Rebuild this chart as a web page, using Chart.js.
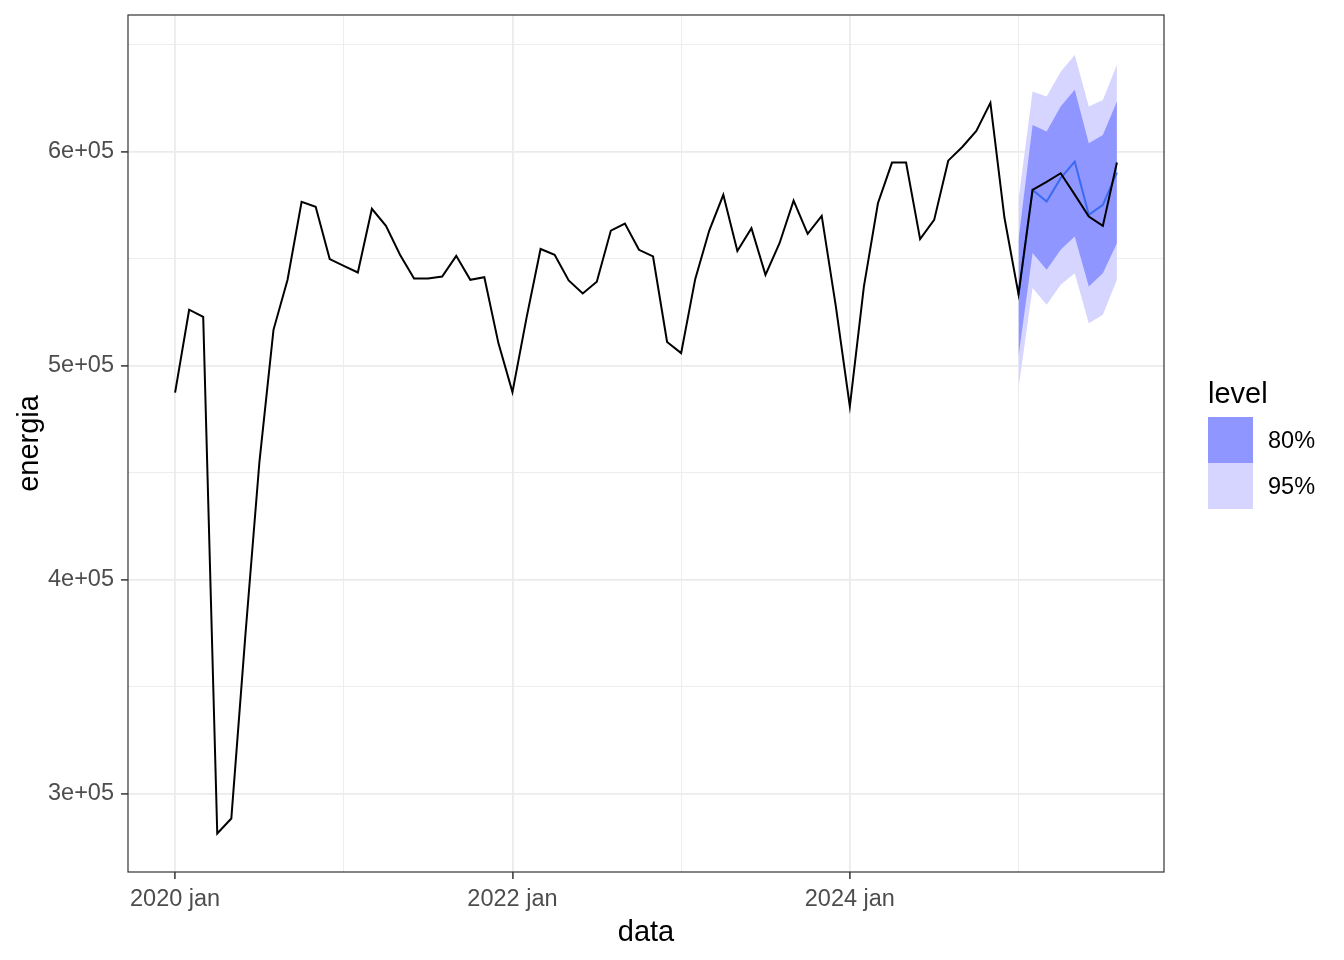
<!DOCTYPE html>
<html>
<head>
<meta charset="utf-8">
<script src="https://cdn.jsdelivr.net/npm/chart.js@4"></script>
<style>
  body { margin: 0; background: #fff; }
  #wrap { position: relative; width: 1344px; height: 960px; }
  #legenda { position: absolute; font-family: 'Liberation Sans', Arial, sans-serif; color: #000; }
  #legenda .titulo { position: absolute; left: 0; top: 0; font-size: 29px; line-height: 34px; white-space: nowrap; }
  #legenda .caixa { position: absolute; left: 0; width: 45px; height: 46px; }
  #legenda .rotulo { position: absolute; left: 60px; font-size: 23.5px; line-height: 46px; white-space: nowrap; }
</style>
</head>
<body>
<div id="wrap"><canvas id="grafico"></canvas><div id="legenda"></div></div>
<script>
// serie mensal, 2020 jan (mes 0) ate 2025 ago (mes 67)
const energia = [
  487400, 526200, 522900, 281300, 288300, 374000, 455100, 516800, 540200, 576600, 574300, 549900,
  546700, 543600, 573400, 565400, 551900, 540800, 540800, 541700, 551400, 540200, 541400, 510600,
  487700, 522400, 554600, 551900, 539900, 533800, 539300, 563200, 566500, 554200, 551100, 511100,
  505900, 540500, 563200, 579900, 553700, 564300, 542500, 557300, 577200, 561700, 570100, 528000,
  481000, 537000, 576000, 595000, 595000, 559200, 568200, 595900, 602300, 609800, 622900, 569200,
  533500, 582200, 586000, 590000, 580000, 569800, 565400, 595000
];

// previsao a partir de 2025 jan (mes 60)
const inicioPrevisao = 60;
const previsao = [533000, 582200, 576800, 587700, 595500, 570600, 575200, 590300];
const lo80 = [504400, 552700, 544900, 554200, 560400, 537100, 543300, 557300];
const hi80 = [558900, 612600, 609500, 621200, 629000, 604000, 607900, 623500];
const lo95 = [489600, 536300, 528500, 537900, 543300, 519900, 523800, 540200];
const hi95 = [577600, 628200, 625900, 637500, 645300, 621200, 624300, 640700];

// ticks: principais com rotulo, secundarios so com grade
const ticksX = [0, 24, 48];
const rotulosX = ['2020 jan', '2022 jan', '2024 jan'];
const ticksXsec = [12, 36, 60];
const ticksY = [300000, 400000, 500000, 600000];
const rotulosY = ['3e+05', '4e+05', '5e+05', '6e+05'];
const ticksYsec = [350000, 450000, 550000, 650000];

const fonte = 'Liberation Sans, Arial, sans-serif';
const corGrade = '#EBEBEB';

const pontos = (arr, inicio) => arr.map((v, i) => ({ x: inicio + i, y: v }));
const juntaTicks = (a, b) => a.concat(b).sort((p, q) => p - q).map(v => ({ value: v }));

// moldura do painel (theme_bw) + legenda em html
const moldura = {
  id: 'moldura',
  afterDraw(chart) {
    const a = chart.chartArea;
    const c = chart.ctx;
    c.save();
    c.strokeStyle = '#333333';
    c.lineWidth = 1.2;
    c.strokeRect(a.left, a.top, a.right - a.left, a.bottom - a.top);
    c.restore();

    const leg = document.getElementById('legenda');
    if (leg.childElementCount) return;
    leg.style.left = (a.right + 44) + 'px';
    leg.style.top = ((a.top + a.bottom) / 2 - 68) + 'px';
    let html = '<div class="titulo">level</div>';
    ['80%', '95%'].forEach((nome, k) => {
      const ds = chart.data.datasets.find(d => d.label === nome);
      const top = 41 + k * 46;
      html += `<div class="caixa" style="top:${top}px;background:${ds.backgroundColor}"></div>`;
      html += `<div class="rotulo" style="top:${top}px">${nome}</div>`;
    });
    leg.innerHTML = html;
  }
};

const ctx = document.getElementById('grafico').getContext('2d');

new Chart(ctx, {
  type: 'line',
  data: {
    datasets: [
      {
        label: 'energia',
        data: pontos(energia, 0),
        borderColor: '#000000',
        borderWidth: 2,
        pointRadius: 0,
        fill: false,
        order: 0
      },
      {
        label: 'previsao',
        data: pontos(previsao, inicioPrevisao),
        borderColor: '#3A6BF2',
        borderWidth: 2,
        pointRadius: 0,
        fill: false,
        order: 1
      },
      {
        label: 'lo95',
        data: pontos(lo95, inicioPrevisao),
        borderWidth: 0,
        pointRadius: 0,
        fill: false,
        order: 4
      },
      {
        label: '95%',
        data: pontos(hi95, inicioPrevisao),
        borderWidth: 0,
        pointRadius: 0,
        backgroundColor: '#D5D5FF',
        fill: '-1',
        order: 4
      },
      {
        label: 'lo80',
        data: pontos(lo80, inicioPrevisao),
        borderWidth: 0,
        pointRadius: 0,
        fill: false,
        order: 3
      },
      {
        label: '80%',
        data: pontos(hi80, inicioPrevisao),
        borderWidth: 0,
        pointRadius: 0,
        backgroundColor: '#8F96FF',
        fill: '-1',
        order: 3
      }
    ]
  },
  options: {
    responsive: true,
    maintainAspectRatio: false,
    animation: false,
    layout: { padding: { top: 15, right: 180, left: 0, bottom: 0 } },
    plugins: {
      tooltip: { enabled: false },
      legend: { display: false }
    },
    scales: {
      x: {
        type: 'linear',
        min: -3.35,
        max: 70.35,
        border: { display: false },
        afterBuildTicks: s => { s.ticks = juntaTicks(ticksX, ticksXsec); },
        grid: {
          color: corGrade,
          lineWidth: c => (c.tick && ticksX.includes(c.tick.value)) ? 1.8 : 0.9,
          tickColor: c => (c.tick && ticksX.includes(c.tick.value)) ? '#333333' : 'rgba(0,0,0,0)',
          tickLength: 7,
          tickWidth: 1.5
        },
        ticks: {
          autoSkip: false,
          maxRotation: 0,
          padding: 6,
          color: '#4D4D4D',
          font: { family: fonte, size: 23.5 },
          callback: v => {
            const i = ticksX.indexOf(v);
            return i >= 0 ? rotulosX[i] : '';
          }
        },
        title: {
          display: true,
          text: 'data',
          color: '#000',
          font: { family: fonte, size: 29 },
          padding: { top: 0, bottom: 10 }
        },
        afterFit: s => { s.height = 88; s.paddingLeft = 0; s.paddingRight = 0; }
      },
      y: {
        type: 'linear',
        min: 263300,
        max: 664000,
        border: { display: false },
        afterBuildTicks: s => { s.ticks = juntaTicks(ticksY, ticksYsec); },
        grid: {
          color: corGrade,
          lineWidth: c => (c.tick && ticksY.includes(c.tick.value)) ? 1.8 : 0.9,
          tickColor: c => (c.tick && ticksY.includes(c.tick.value)) ? '#333333' : 'rgba(0,0,0,0)',
          tickLength: 7,
          tickWidth: 1.5
        },
        ticks: {
          autoSkip: false,
          padding: 7,
          color: '#4D4D4D',
          font: { family: fonte, size: 23.5 },
          callback: v => {
            const i = ticksY.indexOf(v);
            return i >= 0 ? rotulosY[i] : '';
          }
        },
        title: {
          display: true,
          text: 'energia',
          color: '#000',
          font: { family: fonte, size: 29 },
          padding: { top: 13, bottom: 0 }
        },
        afterFit: s => { s.width = 128; s.paddingTop = 0; s.paddingBottom = 0; }
      }
    }
  },
  plugins: [moldura]
});
</script>
</body>
</html>
